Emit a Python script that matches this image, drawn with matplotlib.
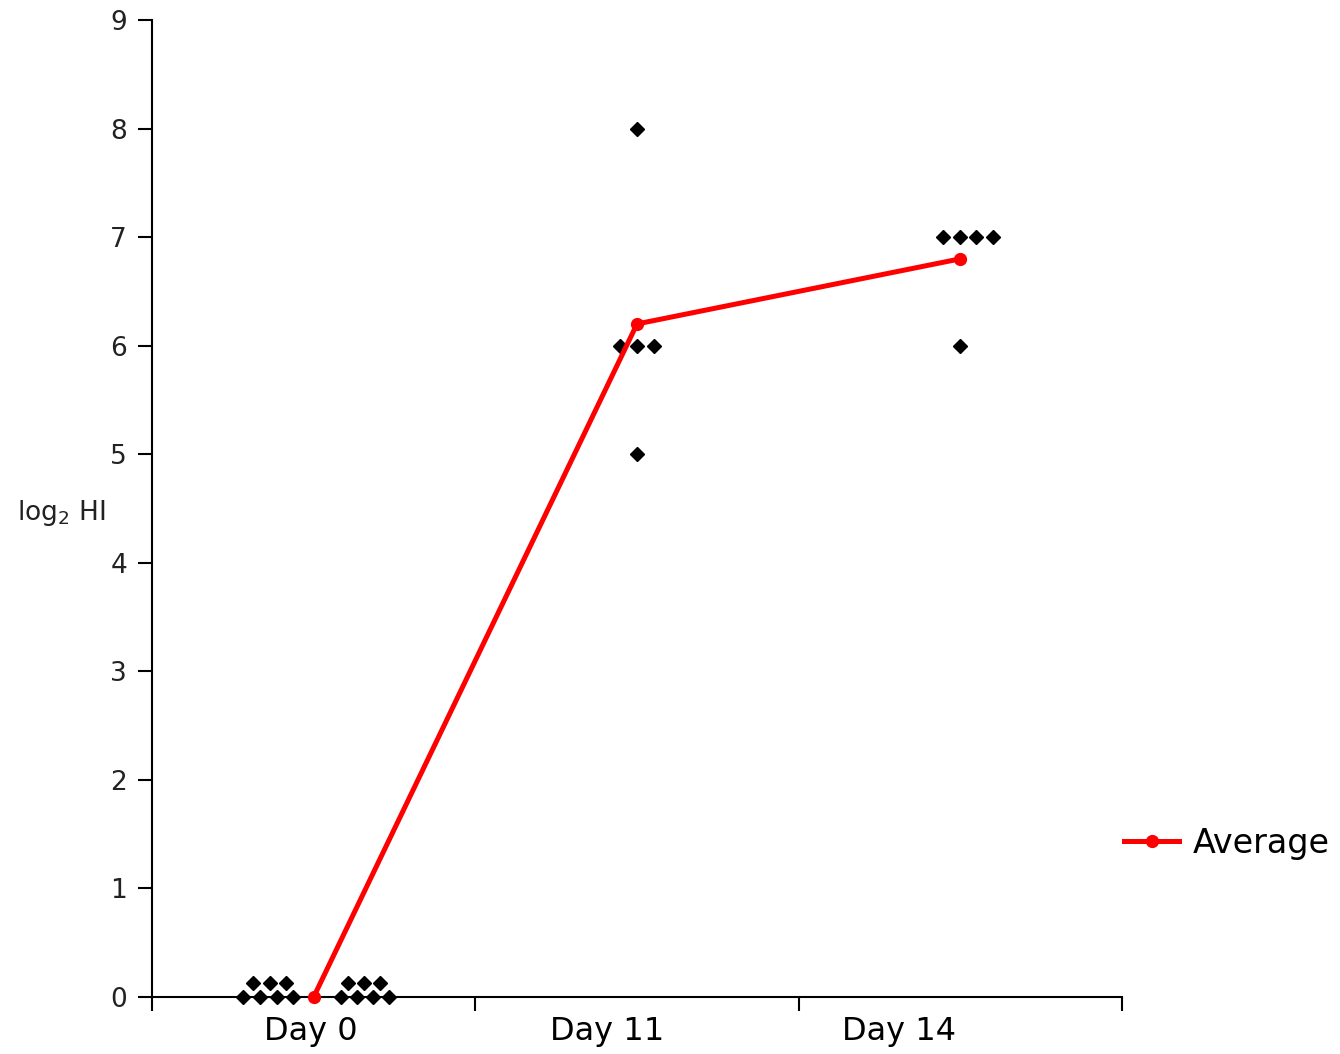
import numpy as np
import matplotlib
matplotlib.use("Agg")
import matplotlib.pyplot as plt

# categories and values
categories = ["Day 0", "Day 11", "Day 14"]
average = [0.0, 6.2, 6.8]
# where the category labels sit along the axis (slightly left of the points)
label_pos = [0.992, 1.907, 2.81]

# individual points: (category position + offset, value)
day0_x = [-0.219, -0.166, -0.114, -0.064, 0.084, 0.134, 0.183, 0.233,
          -0.188, -0.135, -0.086, 0.106, 0.156, 0.205]
day0_y = [0, 0, 0, 0, 0, 0, 0, 0,
          0.13, 0.13, 0.13, 0.13, 0.13, 0.13]
day11_x = [0.0, -0.053, 0.0, 0.053, 0.0]
day11_y = [8, 6, 6, 6, 5]
day14_x = [-0.053, 0.0, 0.05, 0.1, 0.0]
day14_y = [7, 7, 7, 7, 6]

plt.rcParams['font.family'] = ['DejaVu Sans']

fig = plt.figure(figsize=(13.4, 10.54), dpi=100)
ax = fig.add_axes([152/1340, 57/1054, 970/1340, 977/1054])

pos = np.arange(1, len(categories) + 1)

# scatter of individual values
xs = np.concatenate([pos[0] + np.array(day0_x),
                     pos[1] + np.array(day11_x),
                     pos[2] + np.array(day14_x)])
ys = np.concatenate([day0_y, day11_y, day14_y])
ax.plot(xs, ys, linestyle='none', marker='D', markersize=6.8,
        color='black', clip_on=False, zorder=3)

# average line
ax.plot(pos, average, color='#ff0000', linewidth=3.6, marker='o',
        markersize=8.5, label='Average', clip_on=False, zorder=4)

ax.set_xlim(0.5, 3.5)
ax.set_ylim(0, 9)
ax.set_yticks(range(0, 10))
ax.set_xticks([0.5, 1.5, 2.5, 3.5])
ax.set_xticklabels([])
ax.set_xticks(label_pos, minor=True)
ax.set_xticklabels(categories, minor=True, fontsize=23)
ax.tick_params(axis='x', which='minor', length=0, pad=14)
ax.tick_params(axis='x', which='major', length=10, width=1.5, direction='out')
ax.tick_params(axis='y', length=10, width=1.5, direction='out',
               labelsize=19, labelcolor='#222222', pad=8)

for s in ['top', 'right']:
    ax.spines[s].set_visible(False)
for s in ['left', 'bottom']:
    ax.spines[s].set_linewidth(1.5)

ax.set_ylabel('log$_2$ HI', rotation=0, fontsize=19, color='#222222')
ax.yaxis.set_label_coords(-0.094, 0.48)

fig.legend(loc='center left', bbox_to_anchor=(1124/1340, 1 - 843/1054),
           frameon=False, fontsize=24, handlelength=1.65, handletextpad=0.4,
           borderaxespad=0, borderpad=0)

fig.savefig('out.png', dpi=100, facecolor='white')
